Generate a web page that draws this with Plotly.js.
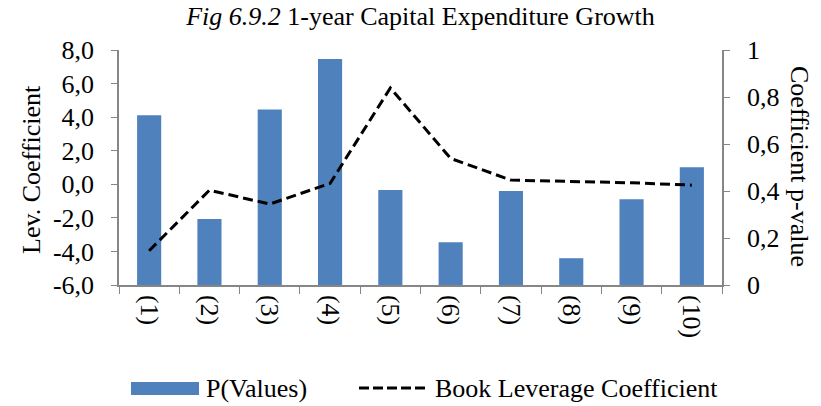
<!DOCTYPE html>
<html><head><meta charset="utf-8">
<script src="https://cdn.plot.ly/plotly-3.0.1.min.js"></script>
<style>body{margin:0;background:#fff}#c{width:821px;height:406px}</style>
</head><body><div id="c"></div>
<script>
const categories = ["(1)","(2)","(3)","(4)","(5)","(6)","(7)","(8)","(9)","(10)"];
const pValues = [0.722, 0.281, 0.747, 0.962, 0.404, 0.182, 0.400, 0.114, 0.365, 0.501];
const bookLevCoef = [-3.96, -0.35, -1.18, 0.05, 5.74, 1.54, 0.25, 0.17, 0.09, -0.05];
const leftTicks = [-6, -4, -2, 0, 2, 4, 6, 8];
const leftTickText = ["-6,0", "-4,0", "-2,0", "0,0", "2,0", "4,0", "6,0", "8,0"];
const barName = 'P(Values)';
const lineName = 'Book Leverage Coefficient';

const font = "Liberation Serif, Times New Roman, serif";
const FS = 26;
const barColor = '#4F81BD';
const axisColor = '#868686';

// plot area in pixels
const L = 119, R = 722, T = 50, B = 285;
const px = x => (x - L) / (R - L);
const py = y => (B - y) / (B - T);

const data = [
  {type:'bar', x:categories, y:pValues, name:barName, yaxis:'y',
   marker:{color:barColor}},
  {type:'scatter', mode:'lines', x:categories, y:bookLevCoef, name:lineName, yaxis:'y2',
   line:{color:'#000', width:3, dash:'10px,5px'}}
];
const layout = {
  width:821, height:406,
  margin:{l:L, r:821-R, t:T, b:406-B},
  separators:',.',
  paper_bgcolor:'#fff', plot_bgcolor:'#fff',
  font:{family:font, size:FS, color:'#000'},
  title:{text:'<i>Fig 6.9.2</i> 1-year Capital Expenditure Growth', x:0.5, xref:'paper', xanchor:'center',
         y:1-16/406, yref:'container', yanchor:'middle', font:{family:font, size:FS}},
  bargap:0.6,
  showlegend:false,
  xaxis:{type:'category', showline:true, linecolor:axisColor, linewidth:1.5, ticks:'outside', tickson:'boundaries', ticklen:7, tickcolor:axisColor,
         tickangle:90, showgrid:false, zeroline:false, tickfont:{family:font, size:FS}, ticklabelstandoff:3},
  yaxis:{side:'right', range:[0,1], dtick:0.2, showline:true, linecolor:axisColor, linewidth:1.5, ticks:'outside', ticklen:6, tickcolor:axisColor,
         showgrid:false, zeroline:false, tickfont:{family:font, size:FS}, ticklabelstandoff:12},
  yaxis2:{overlaying:'y', side:'left', range:[-6,8], tickmode:'array', tickvals:leftTicks, ticktext:leftTickText,
          showline:true, linecolor:axisColor, linewidth:1.5, ticks:'outside', ticklen:6, tickcolor:axisColor,
          showgrid:false, zeroline:false, tickfont:{family:font, size:FS}, ticklabelstandoff:12},
  shapes:[
    {type:'rect', xref:'paper', yref:'paper', x0:px(131), x1:px(199), y0:py(395), y1:py(382), fillcolor:barColor, line:{width:0}},
    {type:'line', xref:'paper', yref:'paper', x0:px(359), x1:px(428), y0:py(388), y1:py(388), line:{color:'#000', width:3, dash:'10px,4px'}}
  ],
  annotations:[
    {text:'Lev. Coefficient', xref:'paper', yref:'paper', x:px(31), y:py(170), xanchor:'center', yanchor:'middle', textangle:-90, showarrow:false, font:{family:font, size:FS}},
    {text:'Coefficient p-value', xref:'paper', yref:'paper', x:px(800), y:py(166), xanchor:'center', yanchor:'middle', textangle:90, showarrow:false, font:{family:font, size:FS}},
    {text:barName, xref:'paper', yref:'paper', x:px(204), y:py(388), xanchor:'left', yanchor:'middle', showarrow:false, font:{family:font, size:FS}},
    {text:lineName, xref:'paper', yref:'paper', x:px(433), y:py(388), xanchor:'left', yanchor:'middle', showarrow:false, font:{family:font, size:FS}}
  ]
};
Plotly.newPlot('c', data, layout, {displayModeBar:false});
</script></body></html>
